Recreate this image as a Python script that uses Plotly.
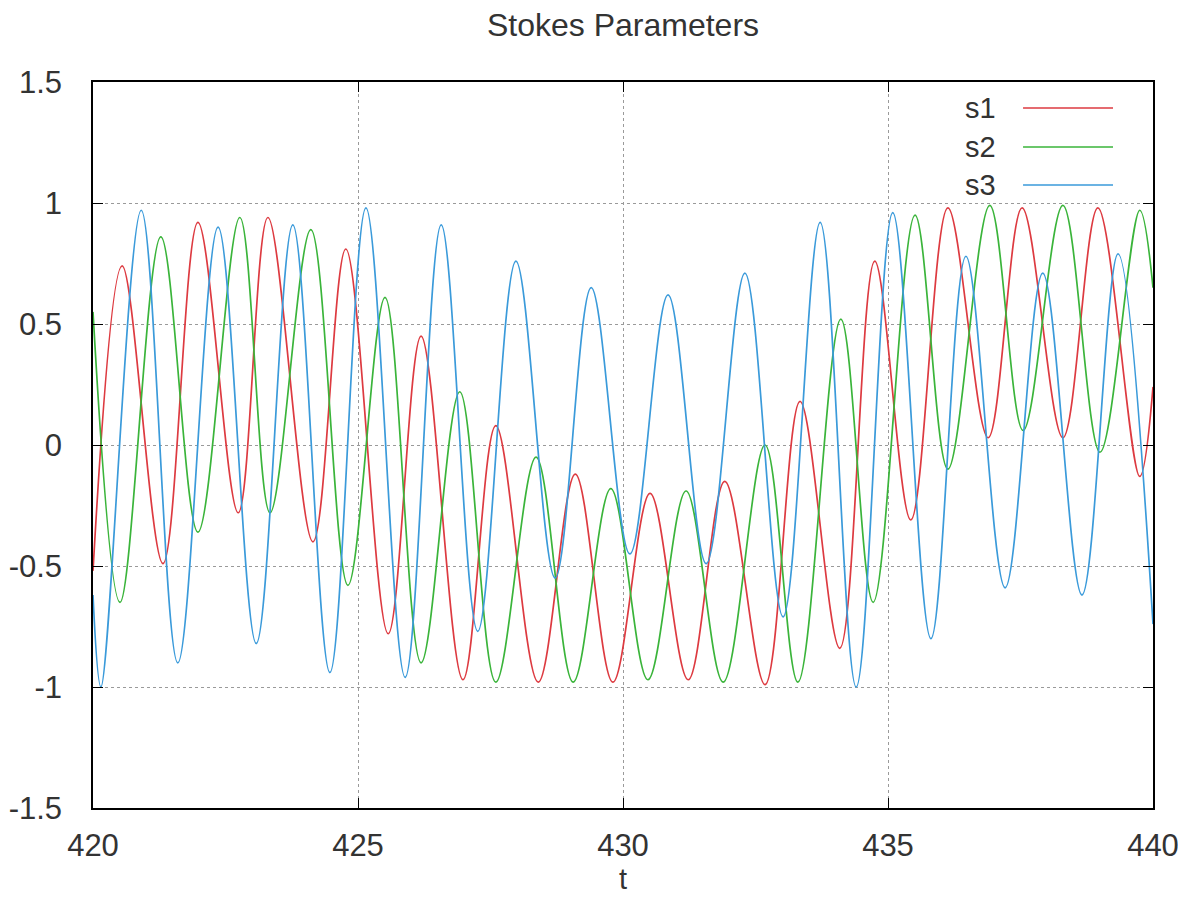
import plotly.graph_objects as go

# ---- data (extrema of each series) ----
s1_t = [420.0, 420.55, 421.32, 421.98, 422.74, 423.3, 424.15, 424.77, 425.57, 426.19,
        426.98, 427.6, 428.4, 429.1, 429.81, 430.51, 431.23, 431.92, 432.68, 433.34,
        434.09, 434.75, 435.43, 436.13, 436.89, 437.53, 438.3, 438.96, 439.75, 440.0]
s1_v = [-0.52, 0.74, -0.49, 0.92, -0.28, 0.94, -0.40, 0.81, -0.78, 0.45,
        -0.97, 0.08, -0.98, -0.12, -0.98, -0.20, -0.97, -0.15, -0.99, 0.18,
        -0.84, 0.76, -0.31, 0.98, 0.03, 0.98, 0.03, 0.98, -0.13, 0.24]

s2_t = [420.0, 420.51, 421.28, 421.98, 422.77, 423.34, 424.11, 424.81, 425.51, 426.19,
        426.92, 427.6, 428.36, 429.06, 429.77, 430.47, 431.19, 431.89, 432.68, 433.3,
        434.11, 434.72, 435.51, 436.13, 436.92, 437.55, 438.3, 439.0, 439.75, 440.0]
s2_v = [0.55, -0.65, 0.86, -0.36, 0.94, -0.28, 0.89, -0.58, 0.61, -0.90,
        0.22, -0.98, -0.05, -0.98, -0.18, -0.97, -0.19, -0.98, 0.0, -0.98,
        0.52, -0.65, 0.95, -0.10, 0.99, 0.06, 0.99, -0.03, 0.97, 0.65]

s3_t = [420.0, 420.15, 420.91, 421.6, 422.36, 423.08, 423.77, 424.47, 425.15, 425.89,
        426.57, 427.26, 427.98, 428.72, 429.4, 430.13, 430.85, 431.57, 432.3, 433.02,
        433.72, 434.4, 435.09, 435.81, 436.47, 437.21, 437.92, 438.66, 439.34, 440.0]
s3_v = [-0.62, -1.0, 0.97, -0.90, 0.90, -0.82, 0.91, -0.94, 0.98, -0.96,
        0.91, -0.77, 0.76, -0.55, 0.65, -0.45, 0.62, -0.49, 0.71, -0.71,
        0.92, -1.0, 0.96, -0.80, 0.78, -0.59, 0.71, -0.62, 0.79, -0.74]

series_names = ["s1", "s2", "s3"]
x_tick_vals = [420, 425, 430, 435, 440]
x_tick_text = ["420", "425", "430", "435", "440"]
y_tick_vals = [-1.5, -1, -0.5, 0, 0.5, 1, 1.5]
y_tick_text = ["-1.5", "-1", "-0.5", "0", "0.5", "1", "1.5"]

colors = ["#dd3a40", "#3ab43a", "#3a9ada"]
FONT = "Liberation Sans, Arial, sans-serif"
TXT = "#333333"

# page body has an 8px margin, so the figure is sized/offset to compensate
W, H = 1178, 897
ML, MT, PW, PH = 85, 74, 1060, 726

fig = go.Figure()
for name, tt, vv, c in zip(series_names, [s1_t, s2_t, s3_t], [s1_v, s2_v, s3_v], colors):
    fig.add_trace(go.Scatter(x=tt, y=vv, mode="lines", name=name,
                             line=dict(color=c, width=1.7, shape="spline", smoothing=1.0),
                             showlegend=False))

axis_common = dict(showline=True, linecolor="black", linewidth=1.5, mirror="allticks",
                   ticks="inside", ticklen=10, tickwidth=1.2, tickcolor="black",
                   showgrid=True, gridcolor="#9a9a9a", gridwidth=1, griddash="dot",
                   zeroline=False, automargin=False,
                   tickfont=dict(family=FONT, size=31, color=TXT))

fig.update_xaxes(range=[420, 440], tickvals=x_tick_vals, ticktext=x_tick_text,
                 ticklabelstandoff=9, **axis_common)
fig.update_yaxes(range=[-1.5, 1.5], tickvals=y_tick_vals, ticktext=y_tick_text,
                 ticklabelstandoff=23, **axis_common)

# x-axis label "t"
fig.add_annotation(x=0.5, y=-71 / PH, xref="paper", yref="paper", text="t",
                   showarrow=False, xanchor="center", yanchor="middle", borderpad=0,
                   font=dict(family=FONT, size=29, color=TXT))

# custom gnuplot-style legend: right-aligned name followed by line sample
leg_y = [0.9642, 0.9105, 0.8581]
for name, c, yy in zip(series_names, colors, leg_y):
    fig.add_annotation(x=0.8538, y=yy, xref="paper", yref="paper", text=name,
                       showarrow=False, xanchor="right", yanchor="middle",
                       font=dict(family=FONT, size=29, color=TXT))
    fig.add_shape(type="line", xref="paper", yref="paper", x0=0.8774, x1=0.9623,
                  y0=yy, y1=yy, line=dict(color=c, width=1.7))

fig.update_layout(
    width=W, height=H,
    margin=dict(l=ML, r=W - ML - PW, t=MT, b=H - MT - PH),
    paper_bgcolor="white", plot_bgcolor="white",
    title=dict(text="Stokes Parameters", x=(ML + PW / 2) / W, xanchor="center",
               y=1 - 17 / H, yanchor="middle", yref="container",
               font=dict(family=FONT, size=32, color=TXT)),
)

fig.write_html("out.html")
